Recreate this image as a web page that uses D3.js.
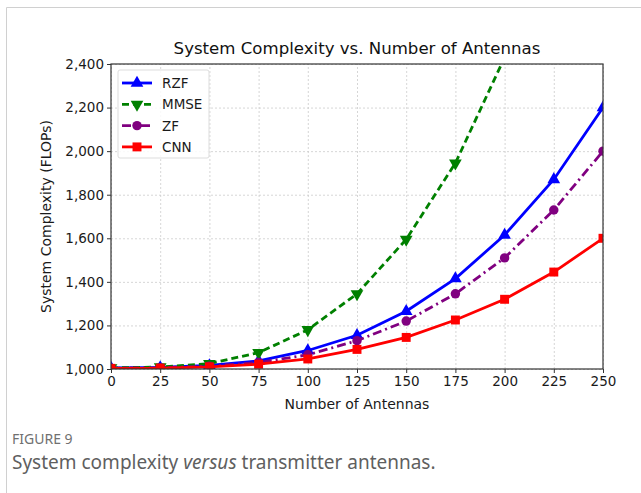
<!DOCTYPE html>
<meta charset="utf-8">
<style>
body { margin: 0; background: #fff; }
.grid line { stroke: #ccc; stroke-dasharray: 2,2; stroke-width: 0.8px; }
.grid path { display: none; }
.axis text { font-family: "DejaVu Sans", sans-serif; font-size: 13.5px; fill: #1a1a1a; }
.axis path, .axis line { stroke: #333; }
</style>
<body>
<script src="https://d3js.org/d3.v7.min.js"></script>
<script>

// data
var antennas = [0, 25, 50, 75, 100, 125, 150, 175, 200, 225, 250];
var rzf  = [1005, 1007, 1016, 1037, 1085, 1155, 1265, 1415, 1615, 1870, 2200];
var mmse = [1005, 1009, 1025, 1075, 1180, 1345, 1595, 1945, 2430, 3000, 3750];
var zf   = [1004, 1006, 1013, 1030, 1065, 1130, 1220, 1345, 1510, 1730, 2000];
var cnn  = [1003, 1004, 1010, 1022, 1046, 1090, 1145, 1225, 1320, 1445, 1600];
var xTicks = [0, 25, 50, 75, 100, 125, 150, 175, 200, 225, 250];
var yTicks = [1000, 1200, 1400, 1600, 1800, 2000, 2200, 2400];

var series = [
  {name: "RZF",  values: rzf,  color: "#0000ff", dash: null,        marker: "up"},
  {name: "MMSE", values: mmse, color: "#008000", dash: "7,4",       marker: "down"},
  {name: "ZF",   values: zf,   color: "#800080", dash: "9,4,2,4",   marker: "circle"},
  {name: "CNN",  values: cnn,  color: "#ff0000", dash: null,        marker: "square"}
];

var margin = {top: 64, right: 38, bottom: 124, left: 111},
    W = 641, H = 493,
    width = W - margin.left - margin.right,
    height = H - margin.top - margin.bottom;

var svg = d3.select("body").append("svg")
    .attr("width", W)
    .attr("height", H);

// light page frame
svg.append("path")
    .attr("d", "M6.5," + H + "V7.5H" + W)
    .attr("fill", "none")
    .attr("stroke", "#d0d0d0");

var g = svg.append("g")
    .attr("transform", "translate(" + margin.left + "," + margin.top + ")");

var x = d3.scaleLinear().domain([0, 250]).range([0, width]);
var y = d3.scaleLinear().domain([1000, 2400]).range([height, 0]);

g.append("clipPath").attr("id", "clip")
  .append("rect").attr("width", width).attr("height", height);

// grid
g.append("g").attr("class", "grid")
    .attr("transform", "translate(0," + height + ")")
    .call(d3.axisBottom(x).tickValues(xTicks).tickSize(-height).tickFormat(""));
g.append("g").attr("class", "grid")
    .call(d3.axisLeft(y).tickValues(yTicks).tickSize(-width).tickFormat(""));

// lines + markers
var symbols = {
  up: d3.symbol().type(d3.symbolTriangle).size(70),
  down: d3.symbol().type(d3.symbolTriangle).size(70),
  circle: d3.symbol().type(d3.symbolCircle).size(70),
  square: d3.symbol().type(d3.symbolSquare).size(80)
};

var line = d3.line()
    .x(function(d, i) { return x(antennas[i]); })
    .y(function(d) { return y(d); });

var plot = g.append("g").attr("clip-path", "url(#clip)");

series.forEach(function(s) {
  plot.append("path")
      .attr("d", line(s.values))
      .attr("fill", "none")
      .attr("stroke", s.color)
      .attr("stroke-width", 2.8)
      .attr("stroke-dasharray", s.dash);
  plot.selectAll(null)
      .data(s.values)
    .enter().append("path")
      .attr("d", symbols[s.marker])
      .attr("transform", function(d, i) {
        return "translate(" + x(antennas[i]) + "," + y(d) + ")" + (s.marker == "down" ? " rotate(180)" : "");
      })
      .attr("fill", s.color);
});

// frame
g.append("rect")
    .attr("width", width).attr("height", height)
    .attr("fill", "none").attr("stroke", "#333").attr("stroke-width", 1.2);

// axes
g.append("g").attr("class", "axis")
    .attr("transform", "translate(0," + height + ")")
    .call(d3.axisBottom(x).tickValues(xTicks).tickSize(4).tickPadding(3));
g.append("g").attr("class", "axis")
    .call(d3.axisLeft(y).tickValues(yTicks).tickSize(4).tickPadding(3).tickFormat(d3.format(",")));
g.selectAll(".axis .domain").remove();

// title and labels
svg.append("text")
    .attr("x", margin.left + width / 2).attr("y", 54)
    .attr("text-anchor", "middle")
    .style("font-family", "DejaVu Sans, sans-serif").style("font-size", "16.6px").style("fill", "#111")
    .text("System Complexity vs. Number of Antennas");

svg.append("text")
    .attr("x", margin.left + width / 2).attr("y", 409)
    .attr("text-anchor", "middle")
    .style("font-family", "DejaVu Sans, sans-serif").style("font-size", "14px").style("fill", "#1a1a1a")
    .text("Number of Antennas");

svg.append("text")
    .attr("transform", "translate(51," + (margin.top + height / 2) + ") rotate(-90)")
    .attr("text-anchor", "middle")
    .style("font-family", "DejaVu Sans, sans-serif").style("font-size", "14px").style("fill", "#1a1a1a")
    .text("System Complexity (FLOPs)");

// legend
var leg = g.append("g").attr("transform", "translate(7,6)");
leg.append("rect")
    .attr("width", 91).attr("height", 88).attr("rx", 2)
    .attr("fill", "#fff").attr("fill-opacity", 0.85)
    .attr("stroke", "#ddd");
series.forEach(function(s, i) {
  var ly = 13 + i * 21.3;
  leg.append("line")
      .attr("x1", 4).attr("x2", 34).attr("y1", ly).attr("y2", ly)
      .attr("stroke", s.color).attr("stroke-width", 2.8)
      .attr("stroke-dasharray", s.dash);
  leg.append("path")
      .attr("d", symbols[s.marker])
      .attr("transform", "translate(19," + ly + ")" + (s.marker == "down" ? " rotate(180)" : ""))
      .attr("fill", s.color);
  leg.append("text")
      .attr("x", 44).attr("y", ly + 5)
      .style("font-family", "DejaVu Sans, sans-serif").style("font-size", "13.5px").style("fill", "#1a1a1a")
      .text(s.name);
});

// caption
svg.append("text")
    .attr("x", 12).attr("y", 444)
    .style("font-family", "Noto Sans, sans-serif").style("font-size", "14px").style("fill", "#707070")
    .text("FIGURE 9");
var cap = svg.append("text")
    .attr("x", 12).attr("y", 469)
    .style("font-family", "Noto Sans, sans-serif").style("font-size", "19px").style("fill", "#5f5f5f");
cap.append("tspan").text("System complexity ");
cap.append("tspan").style("font-style", "italic").text("versus");
cap.append("tspan").text(" transmitter antennas.");

</script>
</body>
